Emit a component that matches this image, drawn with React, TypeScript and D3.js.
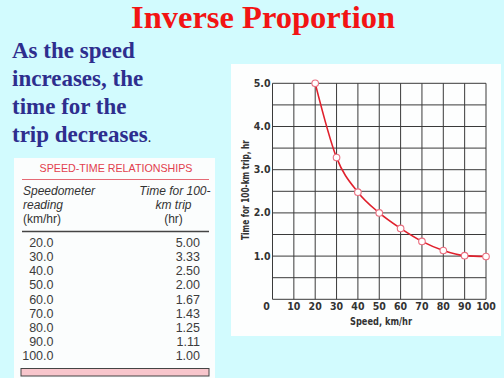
import React from "react";
import * as d3 from "d3";

const titleText = "Inverse Proportion";
const introLines = ["As the speed", "increases, the", "time for the", "trip decreases"];
const tableTitle = "SPEED-TIME  RELATIONSHIPS";
const colHeadLeft = ["Speedometer", "reading", "(km/hr)"];
const colHeadRight = ["Time for 100-", "km trip", "(hr)"];

const speeds = [20, 30, 40, 50, 60, 70, 80, 90, 100];
const tableTimes = [5.0, 3.33, 2.5, 2.0, 1.67, 1.43, 1.25, 1.11, 1.0];
const plottedTimes = [5.0, 3.28, 2.48, 2.0, 1.64, 1.34, 1.13, 1.01, 0.99];

const xTicks = [0, 10, 20, 30, 40, 50, 60, 70, 80, 90, 100];
const yTickLabels = [1, 2, 3, 4, 5];
const yGrid = [0, 0.5, 1, 1.5, 2, 2.5, 3, 3.5, 4, 4.5, 5];

const xLabel = "Speed, km/hr";
const yLabel = "Time for 100-km trip, hr";

export default function App() {
  const W = 504;
  const H = 378;
  const x = d3.scaleLinear().domain([0, 100]).range([272.5, 486]);
  const y = d3.scaleLinear().domain([0, 5]).range([299.3, 83.3]);
  const pts: [number, number][] = speeds.map((s, i) => [s, plottedTimes[i]]);
  const line = d3
    .line<[number, number]>()
    .x((d) => x(d[0]))
    .y((d) => y(d[1]))
    .curve(d3.curveMonotoneX);

  const chartFont = "'Liberation Sans Narrow', 'DejaVu Sans Condensed', 'Arial Narrow', sans-serif";
  const tableFont = "'Liberation Sans', Arial, sans-serif";
  const serif = "'Liberation Serif', 'Times New Roman', serif";
  const gridColor = "#3a3a3a";
  const rowY0 = 246.7;
  const rowStep = 14.2;

  return (
    <svg
      width={W}
      height={H}
      viewBox={`0 0 ${W} ${H}`}
      style={{ position: "absolute", left: 0, top: 0 }}
    >
      <rect x={0} y={0} width={W} height={H} fill="#d2fbfe" />

      {/* Title */}
      <text
        x={263}
        y={28}
        textAnchor="middle"
        fontFamily={serif}
        fontWeight="bold"
        fontSize={32}
        fill="#f21414"
        textLength={264}
        lengthAdjust="spacingAndGlyphs"
      >
        {titleText}
      </text>

      {/* Intro text */}
      {introLines.map((t, i) => (
        <text
          key={t}
          x={12}
          y={[58, 86, 113.5, 141.5][i]}
          fontFamily={serif}
          fontWeight="bold"
          fontSize={23}
          fill="#2e2e8e"
        >
          {t}
          {i === introLines.length - 1 ? (
            <tspan fontWeight="normal" fontSize={14} fill="#222">
              .
            </tspan>
          ) : null}
        </text>
      ))}

      {/* Table panel */}
      <rect x={14} y={158} width={201} height={H - 158} fill="#fbfdfd" />
      <text
        x={116}
        y={172}
        textAnchor="middle"
        fontFamily={tableFont}
        fontSize={11}
        fill="#e2404e"
        textLength={153}
        lengthAdjust="spacingAndGlyphs"
      >
        {tableTitle}
      </text>
      <line x1={22} x2={209} y1={179.5} y2={179.5} stroke="#e56a75" strokeWidth={1.2} />
      {colHeadLeft.map((t, i) => (
        <text
          key={t}
          x={23}
          y={195 + i * 14}
          fontFamily={tableFont}
          fontSize={12}
          fontStyle={i < 2 ? "italic" : "normal"}
          fill="#333"
        >
          {t}
        </text>
      ))}
      {colHeadRight.map((t, i) => (
        <text
          key={t}
          x={i === 0 ? 210.5 : 173.5}
          y={195 + i * 14}
          textAnchor={i === 0 ? "end" : "middle"}
          fontFamily={tableFont}
          fontSize={12}
          fontStyle={i < 2 ? "italic" : "normal"}
          fill="#333"
        >
          {t}
        </text>
      ))}
      <line x1={22} x2={209} y1={231.5} y2={231.5} stroke="#444" strokeWidth={1.3} />
      {speeds.map((s, i) => (
        <g key={s}>
          <text
            x={53.5}
            y={rowY0 + i * rowStep}
            textAnchor="end"
            fontFamily={tableFont}
            fontSize={12.5}
            fill="#3c3c3c"
          >
            {s.toFixed(1)}
          </text>
          <text
            x={200}
            y={rowY0 + i * rowStep}
            textAnchor="end"
            fontFamily={tableFont}
            fontSize={12.5}
            fill="#3c3c3c"
          >
            {tableTimes[i].toFixed(2)}
          </text>
        </g>
      ))}
      <rect x={21} y={368.5} width={188} height={7.5} fill="#f8c6cc" stroke="#444" strokeWidth={1} />

      {/* Chart panel */}
      <rect x={231} y={64} width={270} height={272} fill="#fdfefe" />

      {/* Grid */}
      {xTicks.map((t) => (
        <line
          key={"vx" + t}
          x1={x(t)}
          x2={x(t)}
          y1={y(5)}
          y2={y(0)}
          stroke={gridColor}
          strokeWidth={1}
        />
      ))}
      {yGrid.map((t) => (
        <line
          key={"hy" + t}
          x1={x(0)}
          x2={x(100)}
          y1={y(t)}
          y2={y(t)}
          stroke={gridColor}
          strokeWidth={1}
        />
      ))}

      {/* Y tick labels */}
      {yTickLabels.map((t) => (
        <text
          key={"yl" + t}
          x={x(0) - 2}
          y={y(t) + 3.5}
          textAnchor="end"
          fontFamily={chartFont}
          fontWeight="bold"
          fontSize={10.5}
          fill="#333"
        >
          {t.toFixed(1)}
        </text>
      ))}

      {/* X tick labels */}
      {xTicks.map((t) => (
        <text
          key={"xl" + t}
          x={t === 0 ? x(t) - 6 : x(t)}
          y={309.5}
          textAnchor="middle"
          fontFamily={chartFont}
          fontWeight="bold"
          fontSize={10.5}
          fill="#333"
        >
          {t}
        </text>
      ))}

      {/* Axis titles */}
      <text
        x={381}
        y={325}
        textAnchor="middle"
        fontFamily={chartFont}
        fontWeight="bold"
        fontSize={10.5}
        fill="#333"
        textLength={62}
        lengthAdjust="spacingAndGlyphs"
      >
        {xLabel}
      </text>
      <text
        transform="translate(248.5,190) rotate(-90)"
        textAnchor="middle"
        fontFamily={chartFont}
        fontWeight="bold"
        fontSize={10.5}
        fill="#333"
        textLength={100}
        lengthAdjust="spacingAndGlyphs"
      >
        {yLabel}
      </text>

      {/* Curve */}
      <path d={line(pts) || ""} fill="none" stroke="#e0202c" strokeWidth={1.6} />
      {pts.map((p) => (
        <circle
          key={"pt" + p[0]}
          cx={x(p[0])}
          cy={y(p[1])}
          r={3.3}
          fill="#fff"
          stroke="#ea6f80"
          strokeWidth={1.1}
        />
      ))}
    </svg>
  );
}
